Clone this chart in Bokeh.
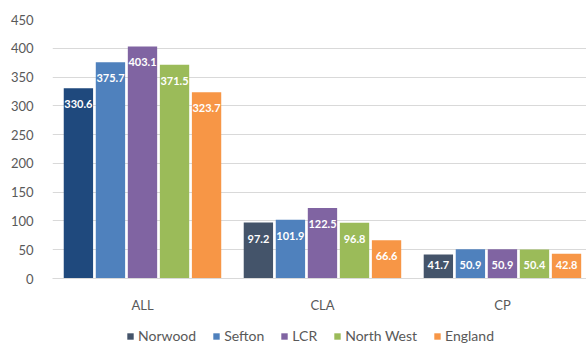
import numpy as np
from bokeh.plotting import figure
from bokeh.layouts import column
from bokeh.core.properties import value
from bokeh.models import ColumnDataSource, Range1d, FixedTicker, Legend, LegendItem, LabelSet
from bokeh.transform import dodge
from bokeh.embed import file_html
from bokeh.resources import INLINE

# ---- data ----
categories = ["ALL", "CLA", "CP"]
series_names = ["Norwood", "Sefton", "LCR", "North West", "England"]
norwood = [330.6, 97.2, 41.7]
sefton = [375.7, 101.9, 50.9]
lcr = [403.1, 122.5, 50.9]
north_west = [371.5, 96.8, 50.4]
england = [323.7, 66.6, 42.8]
y_ticks = [0, 50, 100, 150, 200, 250, 300, 350, 400, 450]

series_values = [norwood, sefton, lcr, north_west, england]
series_colors = [
    ["#1F497D", "#44546A", "#44546A"],
    ["#4F81BD"] * 3,
    ["#8064A2"] * 3,
    ["#9BBB59"] * 3,
    ["#F79646"] * 3,
]

FONT = "Lato"
GREY = "#595959"

p = figure(width=586, height=315, output_backend="svg", toolbar_location=None,
           x_range=Range1d(-0.5, 2.467), y_range=Range1d(0, 450),
           min_border_left=52, min_border_right=0, min_border_top=19,
           min_border_bottom=32,
           outline_line_color=None, background_fill_color="white")

# separate small figure that only hosts the legend
pl = figure(width=586, height=30, output_backend="svg", toolbar_location=None,
            x_range=Range1d(-1000, -999), y_range=Range1d(5000, 5001),
            x_axis_type=None, y_axis_type=None,
            min_border_left=0, min_border_right=0, min_border_top=0, min_border_bottom=0,
            outline_line_color=None, background_fill_color="white")
pl.xgrid.visible = False
pl.ygrid.visible = False

x_pos = list(range(len(categories)))
step = 0.178
bar_w = 0.163
items = []
for i, (name, vals, cols) in enumerate(zip(series_names, series_values, series_colors)):
    off = (i - 2) * step
    src = ColumnDataSource(dict(
        x=x_pos, top=vals, color=cols,
        label=[f"{v:.1f}" for v in vals],
        label_y=[float(v) for v in np.maximum(np.array(vals), 51.0)],
    ))
    p.vbar(x=dodge("x", off), top="top", width=bar_w, bottom=0,
           fill_color="color", line_color=None, source=src)
    labels = LabelSet(x=dodge("x", off), y="label_y", text="label", source=src,
                      y_offset=-16, text_align="center", text_baseline="middle",
                      text_color="white", text_font=value(FONT), text_font_style="bold",
                      text_font_size="11px")
    p.add_layout(labels)
    # legend glyph (same data, lies far outside the legend figure's visible range)
    rl = pl.vbar(x=dodge("x", off), top="top", width=bar_w, bottom=0,
                 fill_color="color", line_color=None, source=src)
    items.append(LegendItem(label=name, renderers=[rl], index=1))

# axes
p.xaxis.ticker = FixedTicker(ticks=x_pos)
p.xaxis.major_label_overrides = {i: c for i, c in enumerate(categories)}
p.xaxis.major_tick_line_color = None
p.xaxis.minor_tick_line_color = None
p.xaxis.axis_line_color = "#D9D9D9"
p.xaxis.major_label_text_font = FONT
p.xaxis.major_label_text_font_size = "13px"
p.xaxis.major_label_text_color = GREY
p.xaxis.major_label_standoff = 12

p.yaxis.ticker = FixedTicker(ticks=y_ticks)
p.yaxis.major_tick_line_color = None
p.yaxis.minor_tick_line_color = None
p.yaxis.axis_line_color = None
p.yaxis.major_label_text_font = FONT
p.yaxis.major_label_text_font_size = "13px"
p.yaxis.major_label_text_color = GREY
p.yaxis.major_label_standoff = 13

p.xgrid.grid_line_color = None
p.ygrid.grid_line_color = "#D9D9D9"
p.ygrid.grid_line_width = 1

legend = Legend(items=items, orientation="horizontal", location=(74, 1),
                glyph_width=8, glyph_height=8, label_standoff=4, spacing=16,
                border_line_color=None, background_fill_alpha=0,
                label_text_font=FONT, label_text_font_size="14px",
                label_text_color=GREY, padding=2, margin=0, label_height=14)
pl.add_layout(legend, "center")

layout = column(p, pl, spacing=0)
open("out.html", "w").write(file_html(layout, INLINE))
